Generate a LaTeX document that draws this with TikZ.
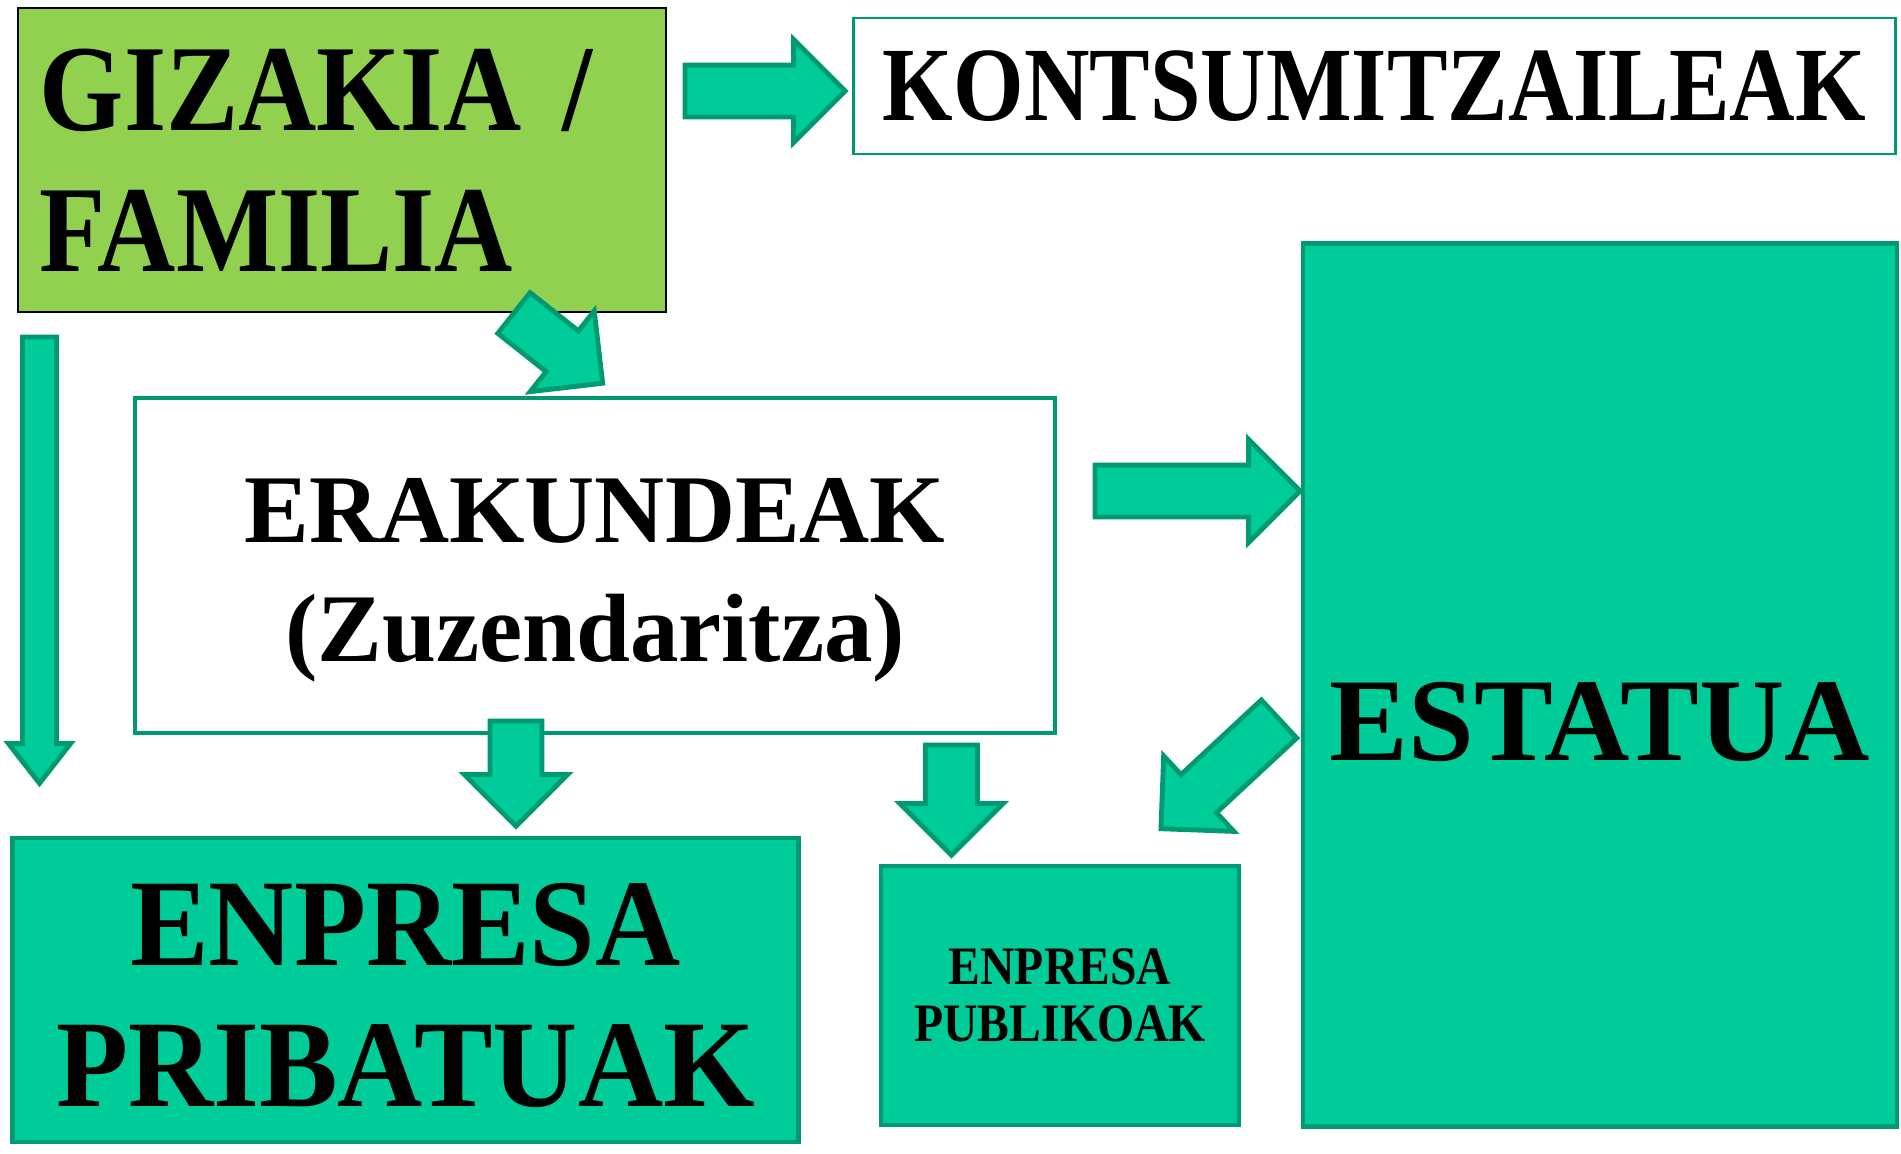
\documentclass[tikz,border=0pt]{standalone}
\usepackage{fontspec}
\setmainfont{Liberation Serif}
\newfontfamily\narrowfont[FakeStretch=0.88]{Liberation Serif}
\newfontfamily\kontfont[FakeStretch=0.86]{Liberation Serif}
\newfontfamily\semifont[FakeStretch=0.95]{Liberation Serif}
\usetikzlibrary{shapes.arrows}
\definecolor{limefill}{HTML}{92D050}
\definecolor{tealfill}{HTML}{00CC99}
\definecolor{tealline}{HTML}{009A72}
\tikzset{
  whitebox/.style={draw=tealline, fill=white, line width=1.1pt},
  tealbox/.style={draw=tealline, fill=tealfill, line width=1.3pt},
  blockarrow/.style={single arrow, draw=tealline, fill=tealfill, line width=1.4pt, anchor=tail,
    inner xsep=0pt, inner ysep=0.235cm, outer sep=0pt, single arrow head extend=0.255cm}
}
\begin{document}
\begin{tikzpicture}[x=0.01cm, y=-0.01cm]
\useasboundingbox (0,0) rectangle (1901,1153);

\node[draw=black, line width=0.6pt, fill=limefill, minimum width=6.48cm, minimum height=3.04cm,
  text width=6.04cm, inner xsep=0.22cm, align=left,
  font=\narrowfont\bfseries\fontsize{35}{40}\selectfont] (gizakia) at (342,160) {GIZAKIA /\\FAMILIA};
\node[whitebox, line width=0.7pt, minimum width=10.41cm, minimum height=1.36cm,
  font=\kontfont\bfseries\fontsize{30}{36}\selectfont] (kontsu) at (1374.5,86) {KONTSUMITZAILEAK};
\node[tealbox, minimum width=5.94cm, minimum height=8.82cm, text height=1.5cm, text depth=0pt,
  font=\bfseries\fontsize{33.6}{40}\selectfont] (estatua) at (1600,685) {ESTATUA};
\node[whitebox, minimum width=9.20cm, minimum height=3.35cm, align=center, inner sep=0pt,
  text height=2.2cm, text depth=0.29cm,
  font=\bfseries\fontsize{27.6}{33.6}\selectfont] (erakunde) at (595,565.5) {ERAKUNDEAK\\(Zuzendaritza)};
\node[tealbox, minimum width=7.85cm, minimum height=3.04cm, align=center, inner sep=0pt,
  text height=2.6cm, text depth=0.28cm,
  font=\semifont\bfseries\fontsize{35.3}{40}\selectfont] (pribatu) at (405.5,990) {ENPRESA\\PRIBATUAK};
\node[tealbox, minimum width=3.58cm, minimum height=2.59cm, align=center,
  font=\narrowfont\bfseries\fontsize{15.4}{16.2}\selectfont] (publiko) at (1060,995.5) {ENPRESA\\PUBLIKOAK};

\node[blockarrow, minimum height=1.60cm] (arr1) at (685,91) {};
\node[blockarrow, minimum height=1.13cm, rotate=-38.4] (arr2) at (514,313) {};
\node[blockarrow, minimum height=4.46cm, rotate=-90, inner ysep=0.145cm,
  single arrow head extend=0.14cm, single arrow tip angle=76] (arr3) at (39.5,337) {};
\node[blockarrow, minimum height=2.05cm] (arr4) at (1095,491) {};
\node[blockarrow, minimum height=1.05cm, rotate=-90] (arr5) at (516,721) {};
\node[blockarrow, minimum height=1.10cm, rotate=-90] (arr6) at (951.5,745) {};
\node[blockarrow, minimum height=1.61cm, rotate=-137.1] (arr7) at (1279,719) {};
\end{tikzpicture}
\end{document}
